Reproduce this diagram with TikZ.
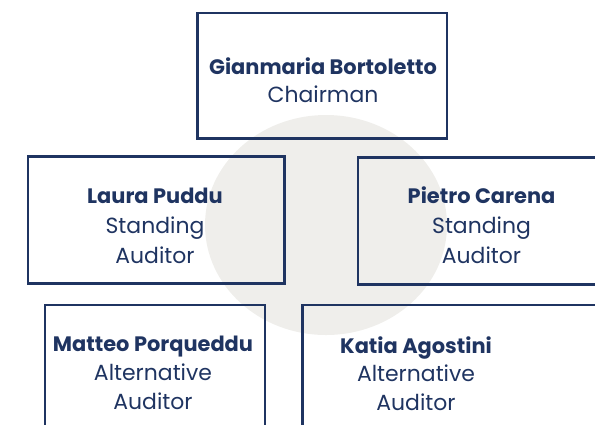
\documentclass[tikz,border=0pt]{standalone}
\usepackage{fontspec}
\setmainfont{Poppins}
\definecolor{navy}{HTML}{1F3461}
\definecolor{disc}{HTML}{EFEEEB}
\begin{document}
\begin{tikzpicture}[x=1bp,y=-1bp,
  box/.style={draw=navy, line width=2.8bp, rectangle, inner sep=0pt, outer sep=0pt},
  person/.style={anchor=base, text=navy, inner sep=0pt, font=\bfseries\fontsize{21}{25}\selectfont},
  role/.style={anchor=base, text=navy, inner sep=0pt, font=\fontsize{22}{26}\selectfont}]
\useasboundingbox (0,0) rectangle (595,424);
\clip (0,0) rectangle (595,424);

% pale disc behind the board
\fill[disc] (326,225) ellipse [x radius=121, y radius=110];

% frames
\node[box, minimum width=249.5bp, minimum height=125.5bp] (chair) at (322.25,75.75) {};
\node[box, minimum width=256.5bp, minimum height=126.8bp] (puddu) at (156.25,219.9) {};
\node[box, minimum width=250bp, minimum height=126.8bp] (carena) at (483,220.9) {};
\node[box, minimum width=220bp, minimum height=127bp] (porqueddu) at (155,368.5) {};
\node[box, minimum width=317bp, minimum height=127bp] (agostini) at (461.3,368.5) {};

% chairman
\node[person] (chairName) at (323,74) {Gianmaria Bortoletto};
\node[role] (chairRole) at (323,102) {Chairman};

% standing auditors
\node[person] (puddName) at (155,203) {Laura Puddu};
\node[role] (puddRole) at (155,233) {Standing};
\node[role] (puddRole2) at (155,263) {Auditor};

\node[person] (carName) at (481.5,203) {Pietro Carena};
\node[role] (carRole) at (481.5,233) {Standing};
\node[role] (carRole2) at (481.5,263) {Auditor};

% alternative auditors
\node[person] (porName) at (153,351) {Matteo Porqueddu};
\node[role] (porRole) at (153,380) {Alternative};
\node[role] (porRole2) at (153,409) {Auditor};

\node[person] (agoName) at (416,353) {Katia Agostini};
\node[role] (agoRole) at (416,381) {Alternative};
\node[role] (agoRole2) at (416,410) {Auditor};
\end{tikzpicture}
\end{document}
